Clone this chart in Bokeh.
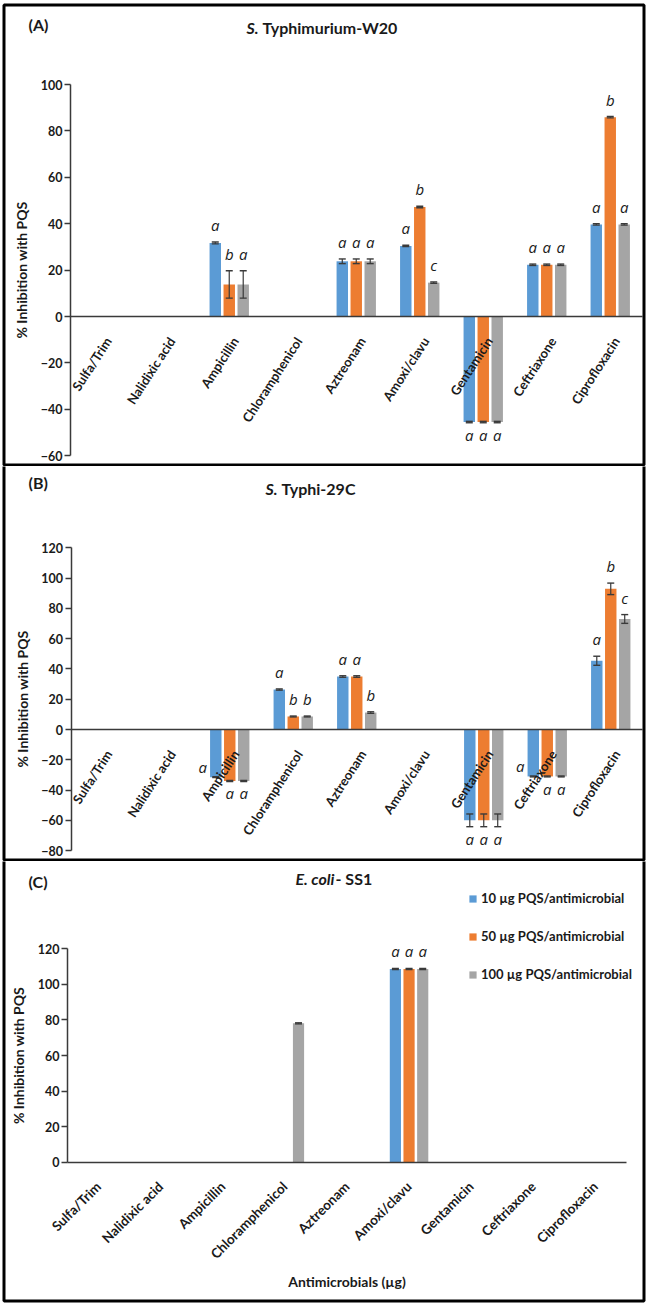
import math
from bokeh.plotting import figure
from bokeh.models import (ColumnDataSource, Range1d, Label, BoxAnnotation, LinearAxis,
                          FixedTicker, Legend, LegendItem)
from bokeh.layouts import column
from bokeh.core.properties import value
from bokeh.embed import file_html
from bokeh.resources import INLINE

nan = float("nan")

categories = ["Sulfa/Trim", "Nalidixic acid", "Ampicillin", "Chloramphenicol",
              "Aztreonam", "Amoxi/clavu", "Gentamicin", "Ceftriaxone", "Ciprofloxacin"]
series_names = ["10 µg PQS/antimicrobial", "50 µg PQS/antimicrobial", "100 µg PQS/antimicrobial"]
series_colors = ["#5B9BD5", "#ED7D31", "#A5A5A5"]

# ---- (A) S. Typhimurium-W20
a_10 = [nan, nan, 31.7, nan, 23.8, 30.4, -45.5, 22.3, 39.7]
a_50 = [nan, nan, 13.8, nan, 23.8, 47.2, -45.5, 22.3, 85.9]
a_100 = [nan, nan, 13.8, nan, 23.8, 14.6, -45.5, 22.3, 39.7]
a_10_err = [nan, nan, 0.4, nan, 1.0, 0.3, 0.3, 0.3, 0.3]
a_50_err = [nan, nan, 5.9, nan, 1.0, 0.3, 0.3, 0.3, 0.3]
a_100_err = [nan, nan, 5.9, nan, 1.0, 0.3, 0.3, 0.3, 0.3]
a_10_let = ["", "", "a", "", "a", "a", "a", "a", "a"]
a_50_let = ["", "", "b", "", "a", "b", "a", "a", "b"]
a_100_let = ["", "", "a", "", "a", "c", "a", "a", "a"]

# ---- (B) S. Typhi-29C
b_10 = [nan, nan, -31.5, 26.4, 35.0, nan, -60.0, -31.0, 45.4]
b_50 = [nan, nan, -34.0, 8.6, 35.0, nan, -60.0, -31.0, 92.9]
b_100 = [nan, nan, -34.0, 8.6, 11.2, nan, -60.0, -31.0, 73.0]
b_10_err = [nan, nan, 0.3, 0.4, 0.5, nan, 4.2, 0.3, 3.0]
b_50_err = [nan, nan, 0.3, 0.3, 0.5, nan, 4.2, 0.3, 3.8]
b_100_err = [nan, nan, 0.3, 0.3, 0.5, nan, 4.2, 0.3, 2.9]
b_10_let = ["", "", "a", "a", "a", "", "a", "a", "a"]
b_50_let = ["", "", "a", "b", "a", "", "a", "a", "b"]
b_100_let = ["", "", "a", "b", "b", "", "a", "a", "c"]

# ---- (C) E. coli- SS1
c_10 = [nan, nan, nan, nan, nan, 108.7, nan, nan, nan]
c_50 = [nan, nan, nan, nan, nan, 108.7, nan, nan, nan]
c_100 = [nan, nan, nan, 78.1, nan, 108.7, nan, nan, nan]
c_10_err = [nan, nan, nan, nan, nan, 0.3, nan, nan, nan]
c_50_err = [nan, nan, nan, nan, nan, 0.3, nan, nan, nan]
c_100_err = [nan, nan, nan, 0.3, nan, 0.3, nan, nan, nan]
c_10_let = ["", "", "", "", "", "a", "", "", ""]
c_50_let = ["", "", "", "", "", "a", "", "", ""]
c_100_let = ["", "", "", "", "", "a", "", "", ""]

FONT = "Lato"
TXT = "#1a1a1a"
AX = "#3a3a3a"
OFFS = [-0.22, 0.0, 0.22]
W = 647
N = len(categories)
centers = [k + 0.5 for k in range(N)]


def build(vals, errs, lets, ymin, ymax, h, left_px, unit_x, zero_px, unit_y,
          axis_labels_below, xlabel=None, side=()):
    x_range = Range1d(-left_px / unit_x, (W - left_px) / unit_x)
    y_range = Range1d(-(h - zero_px) / unit_y, zero_px / unit_y)
    p = figure(width=W, height=h, x_range=x_range, y_range=y_range,
               output_backend="svg", toolbar_location=None,
               x_axis_location=None, y_axis_location=None,
               min_border_left=0, min_border_right=0, min_border_top=0, min_border_bottom=0)
    p.outline_line_color = None
    p.xgrid.visible = False
    p.ygrid.visible = False
    p.background_fill_color = "white"
    p.border_fill_color = "white"

    ya = LinearAxis(fixed_location=0, bounds=(ymin, ymax),
                    ticker=FixedTicker(ticks=list(range(ymin, ymax + 1, 20))))
    ya.axis_line_color = AX
    ya.axis_line_width = 1.5
    ya.major_tick_line_color = AX
    ya.major_tick_line_width = 1.3
    ya.major_tick_out = 6
    ya.major_tick_in = 0
    ya.minor_tick_line_color = None
    ya.major_label_standoff = 2
    ya.major_label_text_font = FONT
    ya.major_label_text_font_style = "bold"
    ya.major_label_text_font_size = "12.5px"
    ya.major_label_text_color = TXT
    ya.axis_label = "% Inhibition with PQS"
    ya.axis_label_text_font = FONT
    ya.axis_label_text_font_style = "bold"
    ya.axis_label_text_font_size = "14px"
    ya.axis_label_text_color = TXT
    ya.axis_label_standoff = 8
    p.add_layout(ya, "left")

    xa = LinearAxis(fixed_location=0, bounds=(0, N),
                    ticker=FixedTicker(ticks=centers if axis_labels_below else []),
                    major_label_overrides={c: n for c, n in zip(centers, categories)})
    xa.axis_line_color = AX
    xa.axis_line_width = 1.5
    xa.major_tick_line_color = None
    xa.minor_tick_line_color = None
    xa.major_label_orientation = math.radians(45)
    xa.major_label_standoff = 16
    xa.major_label_text_font = FONT
    xa.major_label_text_font_style = "bold"
    xa.major_label_text_font_size = "13.5px"
    xa.major_label_text_color = TXT
    if xlabel:
        xa.axis_label = xlabel
        xa.axis_label_text_font = FONT
        xa.axis_label_text_font_style = "bold"
        xa.axis_label_text_font_size = "14px"
        xa.axis_label_text_color = TXT
        xa.axis_label_standoff = 2
    p.add_layout(xa, "below")

    renderers = []
    for i in range(3):
        rows = [k for k in range(N) if not math.isnan(vals[i][k])]
        v = [vals[i][k] for k in rows]
        e = [errs[i][k] for k in rows]
        src = ColumnDataSource(dict(x=[centers[k] + OFFS[i] for k in rows], val=v,
                                    lo=[a - b for a, b in zip(v, e)],
                                    hi=[a + b for a, b in zip(v, e)]))
        r = p.vbar(x="x", top="val", bottom=0, width=0.18, source=src,
                   fill_color=series_colors[i], line_color=None)
        renderers.append(r)
        p.segment(x0="x", y0="lo", x1="x", y1="hi", source=src, line_color=AX, line_width=1.2)
        p.scatter(x="x", y="hi", source=src, marker="dash", size=7, line_color=AX, line_width=1.4)
        p.scatter(x="x", y="lo", source=src, marker="dash", size=7, line_color=AX, line_width=1.4)

    if not axis_labels_below:
        csrc = ColumnDataSource(dict(x=centers, y=[0] * N, t=categories))
        p.text(x="x", y="y", text="t", source=csrc, angle=math.radians(57),
               x_offset=6, y_offset=22, text_align="right", text_baseline="middle",
               text_font=value(FONT), text_font_style="bold", text_font_size="13px",
               text_color=TXT)

    for i in range(3):
        rows = [k for k in range(N) if not math.isnan(vals[i][k]) and lets[i][k]]
        ly, lyo, lxo = [], [], []
        for k in rows:
            val, err = vals[i][k], errs[i][k]
            if (i, categories[k]) in side:
                ly.append(val * 0.78); lyo.append(0); lxo.append(-13)
            elif val >= 0:
                ly.append(val + err); lyo.append(-17); lxo.append(0)
            else:
                ly.append(val - err); lyo.append(12); lxo.append(0)
        lsrc = ColumnDataSource(dict(x=[centers[k] + OFFS[i] for k in rows],
                                     txt=[lets[i][k] for k in rows], ly=ly, lyo=lyo, lxo=lxo))
        p.text(x="x", y="ly", text="txt", x_offset="lxo", y_offset="lyo", source=lsrc,
               text_font=value("Open Sans"), text_font_style="italic", text_font_size="15px",
               text_align="center", text_baseline="middle", text_color=TXT)
    return p, renderers


def frame_box(p, h, top_line, bottom_px):
    p.add_layout(BoxAnnotation(left=3.5, right=643.5,
                               top=(h - 4.5) if top_line else (h + 10), bottom=bottom_px,
                               left_units="screen", right_units="screen",
                               top_units="screen", bottom_units="screen",
                               fill_alpha=0, line_color="black", line_alpha=1.0,
                               line_width=3, level="overlay"))


def titles(p, h, tag, tag_y, ital, rest, split, gap, y):
    p.add_layout(Label(x=28, y=h - tag_y, text=tag, x_units="screen", y_units="screen",
                       text_font=FONT, text_font_style="bold", text_font_size="16px",
                       text_color=TXT, text_baseline="middle", text_align="left"))
    p.add_layout(Label(x=split, y=h - y, text=ital, x_units="screen", y_units="screen",
                       text_font=FONT, text_font_style="bold italic", text_font_size="16px",
                       text_color=TXT, text_baseline="middle", text_align="right"))
    p.add_layout(Label(x=split + gap, y=h - y, text=rest, x_units="screen", y_units="screen",
                       text_font=FONT, text_font_style="bold", text_font_size="16px",
                       text_color=TXT, text_baseline="middle", text_align="left"))


hA, hB, hC = 466, 395, 443
pA, _ = build([a_10, a_50, a_100], [a_10_err, a_50_err, a_100_err],
              [a_10_let, a_50_let, a_100_let], -60, 100, hA, 70, 63.5, 316, 2.32, False)
frame_box(pA, hA, True, 1.5)
titles(pA, hA, "(A)", 24, "S.", "Typhimurium-W20", 258, 4, 27)

pB, _ = build([b_10, b_50, b_100], [b_10_err, b_50_err, b_100_err],
              [b_10_let, b_50_let, b_100_let], -80, 120, hB, 70.5, 63.5, 263, 1.514, False,
              side={(0, "Ampicillin"), (0, "Ceftriaxone")})
frame_box(pB, hB, False, 1.5)
titles(pB, hB, "(B)", 16, "S.", "Typhi-29C", 277, 4, 22)

pC, rC = build([c_10, c_50, c_100], [c_10_err, c_50_err, c_100_err],
               [c_10_let, c_50_let, c_100_let], 0, 120, hC, 67, 62.1, 300.7, 1.778, True,
               xlabel="Antimicrobials (µg)")
frame_box(pC, hC, False, 3.5)
titles(pC, hC, "(C)", 20, "E. coli", "- SS1", 334, 1, 17)

legend = Legend(items=[LegendItem(label=series_names[i], renderers=[rC[i]]) for i in range(3)],
                location=(468, 320), orientation="vertical", glyph_width=9, glyph_height=9,
                label_height=20, spacing=18, padding=0, margin=0, border_line_color=None,
                background_fill_alpha=0, label_text_font=FONT, label_text_font_style="bold",
                label_text_font_size="13px", label_text_color=TXT, label_standoff=4)
pC.add_layout(legend)

layout = column(pA, pB, pC, spacing=0)
open("out.html", "w").write(file_html(layout, INLINE))
